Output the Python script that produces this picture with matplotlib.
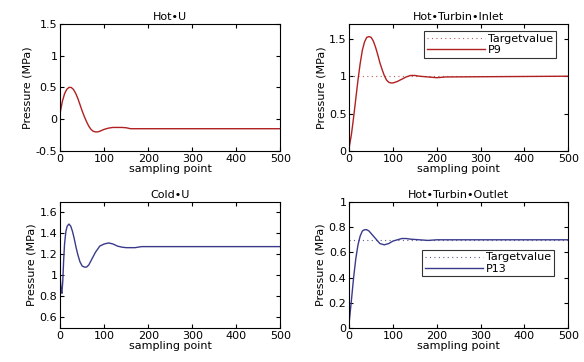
import matplotlib.pyplot as plt

plt.rcParams['font.family'] = ['DejaVu Sans']

x_hu = [0, 5, 10, 15, 20, 25, 30, 35, 40, 45, 50, 55, 60, 65, 70, 75, 80, 85, 90, 100, 110, 120, 130, 140, 150, 160, 500]
y_hu = [0.10, 0.28, 0.40, 0.47, 0.50, 0.50, 0.47, 0.41, 0.33, 0.23, 0.13, 0.04, -0.04, -0.11, -0.16, -0.19, -0.20, -0.20, -0.19, -0.16, -0.14, -0.13, -0.13, -0.13, -0.135, -0.15, -0.15]

x_hi = [0, 5, 10, 15, 20, 25, 30, 35, 40, 45, 50, 55, 60, 65, 70, 75, 80, 85, 90, 95, 100, 110, 120, 130, 140, 150, 160, 180, 200, 220, 500]
y_hi = [0.05, 0.22, 0.45, 0.70, 0.95, 1.17, 1.35, 1.46, 1.52, 1.53, 1.52, 1.47, 1.39, 1.29, 1.18, 1.09, 1.01, 0.95, 0.92, 0.91, 0.91, 0.93, 0.96, 0.99, 1.01, 1.01, 1.00, 0.99, 0.98, 0.99, 1.00]

x_cu = [0, 2, 4, 6, 8, 10, 13, 16, 20, 24, 28, 32, 36, 40, 45, 50, 55, 60, 65, 70, 80, 90, 100, 110, 120, 130, 140, 150, 170, 185, 500]
y_cu = [1.00, 0.86, 0.83, 0.95, 1.15, 1.30, 1.42, 1.47, 1.49, 1.47, 1.42, 1.35, 1.27, 1.20, 1.13, 1.09, 1.08, 1.08, 1.10, 1.14, 1.22, 1.28, 1.30, 1.31, 1.30, 1.28, 1.27, 1.265, 1.265, 1.275, 1.275]

x_ho = [0, 5, 10, 15, 20, 25, 30, 35, 40, 45, 50, 55, 60, 65, 70, 80, 90, 100, 110, 120, 130, 140, 160, 180, 200, 500]
y_ho = [0.05, 0.22, 0.40, 0.55, 0.66, 0.73, 0.77, 0.78, 0.78, 0.77, 0.75, 0.73, 0.71, 0.69, 0.67, 0.66, 0.67, 0.69, 0.70, 0.71, 0.71, 0.705, 0.70, 0.695, 0.70, 0.70]

target_hi = 1.0
target_ho = 0.7

red = '#b02020'
blue = '#3a3a8c'

fig = plt.figure(figsize=(5.84, 3.62), dpi=100)
ax1 = fig.add_axes([0.103, 0.583, 0.377, 0.351])
ax2 = fig.add_axes([0.598, 0.583, 0.375, 0.351])
ax3 = fig.add_axes([0.103, 0.094, 0.377, 0.348])
ax4 = fig.add_axes([0.598, 0.094, 0.375, 0.348])

fs = 8

ax1.plot(x_hu, y_hu, color=red, lw=1)
ax1.set_ylim(-0.5, 1.5)
ax1.set_yticks([-0.5, 0, 0.5, 1, 1.5])
ax1.set_yticklabels(['-0.5', '0', '0.5', '1', '1.5'])
ax1.set_title('Hot\u2022U', fontsize=fs, pad=3)

ax2.plot([0, 500], [target_hi, target_hi], linestyle=(0, (1, 3)), color='#b06060', lw=0.8, label='Targetvalue')
ax2.plot(x_hi, y_hi, color=red, lw=1, label='P9')
ax2.set_ylim(0, 1.7)
ax2.set_yticks([0, 0.5, 1, 1.5])
ax2.set_yticklabels(['0', '0.5', '1', '1.5'])
ax2.set_title('Hot\u2022Turbin\u2022Inlet', fontsize=fs, pad=3)
ax2.legend(loc='upper right', bbox_to_anchor=(0.945, 0.945), fontsize=fs, frameon=True,
           fancybox=False, edgecolor='black', borderaxespad=0, handlelength=5.2,
           labelspacing=0.1, borderpad=0.25, handletextpad=0.3).get_frame().set_linewidth(0.8)

ax3.plot(x_cu, y_cu, color=blue, lw=1)
ax3.set_ylim(0.5, 1.7)
ax3.set_yticks([0.6, 0.8, 1.0, 1.2, 1.4, 1.6])
ax3.set_yticklabels(['0.6', '0.8', '1', '1.2', '1.4', '1.6'])
ax3.set_title('Cold\u2022U', fontsize=fs, pad=3)

ax4.plot([0, 500], [target_ho, target_ho], linestyle=(0, (1, 3)), color='#606090', lw=0.8, label='Targetvalue')
ax4.plot(x_ho, y_ho, color=blue, lw=1, label='P13')
ax4.set_ylim(0, 1)
ax4.set_yticks([0, 0.2, 0.4, 0.6, 0.8, 1])
ax4.set_yticklabels(['0', '0.2', '0.4', '0.6', '0.8', '1'])
ax4.set_title('Hot\u2022Turbin\u2022Outlet', fontsize=fs, pad=3)
ax4.legend(loc='upper right', bbox_to_anchor=(0.936, 0.622), fontsize=fs, frameon=True,
           fancybox=False, edgecolor='black', borderaxespad=0, handlelength=5.2,
           labelspacing=0.1, borderpad=0.25, handletextpad=0.3).get_frame().set_linewidth(0.8)

for ax in [ax1, ax2, ax3, ax4]:
    ax.set_xlim(0, 500)
    ax.set_xticks([0, 100, 200, 300, 400, 500])
    ax.set_xlabel('sampling point', fontsize=fs, labelpad=0)
    ax.set_ylabel('Pressure (MPa)', fontsize=fs, labelpad=2)
    ax.tick_params(direction='in', labelsize=fs, length=3, top=True, right=True, pad=2)
    for s in ax.spines.values():
        s.set_linewidth(0.8)

fig.savefig('out.png', dpi=100)
